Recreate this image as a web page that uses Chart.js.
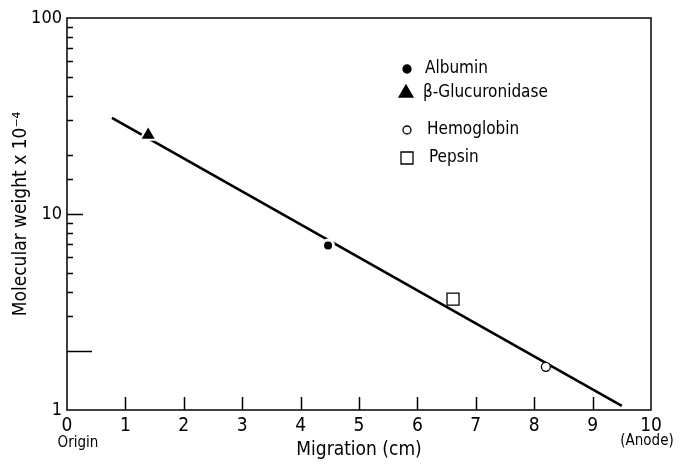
<!DOCTYPE html>
<html>
<head>
<meta charset="utf-8">
<script src="https://cdn.jsdelivr.net/npm/chart.js@4.4.1/dist/chart.umd.min.js"></script>
<style>
  html, body { margin: 0; padding: 0; background: #fff; }
  #wrap { width: 680px; height: 464px; }
</style>
</head>
<body>
<div id="wrap"><canvas id="mw-chart"></canvas></div>
<script>
// values
var proteins = ['Albumin', 'β-Glucuronidase', 'Hemoglobin', 'Pepsin'];
var migrationCm = [4.47, 1.39, 8.20, 6.61];
var molWeight = [6.9, 25.3, 1.66, 3.68];

// fitted line, its two ends
var fitCm = [0.77, 9.5];
var fitWeight = [30.9, 1.05];

var yLabelValues = [1, 10, 100];
var xEndNotes = ['Origin', '(Anode)'];

var FONT = '"DejaVu Sans Condensed", "DejaVu Sans", sans-serif';

// marker look for each protein, same order as proteins
var markers = [
    { style: 'circle', radius: 5.5, fill: '#000', border: '#fff', bw: 3 },
    { style: 'triangle', radius: 9.5, fill: '#000', border: '#fff', bw: 2 },
    { style: 'circle', radius: 4.5, fill: '#fff', border: '#000', bw: 1.3 },
    { style: 'rect', radius: 8.5, fill: 'rgba(0,0,0,0)', border: '#000', bw: 1.3 }
];
// where the legend rows sit
var legendRows = [
    { mx: 407, y: 69, tx: 425 },
    { mx: 406, y: 93, tx: 423 },
    { mx: 407, y: 130, tx: 427 },
    { mx: 407, y: 158, tx: 429 }
];

var datasets = proteins.map(function(name, i) {
    var m = markers[i];
    return {
        label: name,
        data: [{ x: migrationCm[i], y: molWeight[i] }],
        pointStyle: m.style,
        pointRadius: m.radius,
        pointBackgroundColor: m.fill,
        pointBorderColor: m.border,
        pointBorderWidth: m.bw,
        order: 1
    };
});
datasets.push({
    label: 'fit',
    data: fitCm.map(function(x, i) { return { x: x, y: fitWeight[i] }; }),
    showLine: true,
    borderColor: '#000',
    borderWidth: 2.6,
    pointRadius: 0,
    order: 2
});

// box, inward ticks, end notes and legend
var decorations = {
    id: 'decorations',
    afterDraw: function(chart) {
        var ctx = chart.ctx;
        var a = chart.chartArea;
        var xs = chart.scales.x, ys = chart.scales.y;
        ctx.save();
        ctx.strokeStyle = '#000';
        ctx.lineWidth = 1.5;
        ctx.strokeRect(a.left, a.top, a.right - a.left, a.bottom - a.top);

        ctx.beginPath();
        for (var v = 1; v < 10; v++) {
            var px = Math.round(xs.getPixelForValue(v)) + 0.5;
            ctx.moveTo(px, a.bottom);
            ctx.lineTo(px, a.bottom - 13);
        }
        ys.ticks.forEach(function(t) {
            if (t.value <= 1 || t.value >= 100) return;
            var len = 6;
            if (t.value === 10) len = 16;
            if (t.value === 2) len = 25;
            var py = Math.round(ys.getPixelForValue(t.value)) + 0.5;
            ctx.moveTo(a.left, py);
            ctx.lineTo(a.left + len, py);
        });
        ctx.stroke();

        ctx.fillStyle = '#000';
        ctx.font = '15px ' + FONT;
        ctx.textAlign = 'center';
        ctx.textBaseline = 'alphabetic';
        ctx.fillText(xEndNotes[0], xs.getPixelForValue(0) + 11, a.bottom + 37);
        ctx.fillText(xEndNotes[1], xs.getPixelForValue(10) - 4, a.bottom + 35);

        ctx.font = '17px ' + FONT;
        ctx.textAlign = 'left';
        ctx.textBaseline = 'middle';
        proteins.forEach(function(name, i) {
            var m = markers[i], r = legendRows[i];
            ctx.lineWidth = 1.3;
            ctx.strokeStyle = '#000';
            ctx.fillStyle = m.fill === '#000' ? '#000' : '#fff';
            Chart.helpers.drawPoint(ctx, {
                pointStyle: m.style,
                radius: m.style === 'circle' ? 4 : (m.style === 'triangle' ? 8 : 8.5),
                borderWidth: 1.3,
                rotation: 0
            }, r.mx, r.y);
            ctx.fillStyle = '#000';
            ctx.fillText(name, r.tx, r.y);
        });
        ctx.restore();
    }
};

new Chart(document.getElementById('mw-chart'), {
    type: 'scatter',
    data: { datasets: datasets },
    options: {
        responsive: true,
        maintainAspectRatio: false,
        animation: false,
        layout: { padding: { top: 18, right: 29, left: 0, bottom: 0 } },
        plugins: { legend: { display: false }, tooltip: { enabled: false } },
        scales: {
            x: {
                type: 'linear',
                min: 0,
                max: 10,
                grid: { display: false, drawTicks: false },
                border: { display: false },
                ticks: { stepSize: 1, color: '#000', font: { family: FONT, size: 19 }, padding: 5, maxRotation: 0 },
                title: { display: true, text: 'Migration (cm)', color: '#000', font: { family: FONT, size: 19 }, padding: { top: 0, bottom: 3 } },
                afterFit: function(s) { s.height = 54; }
            },
            y: {
                type: 'logarithmic',
                min: 1,
                max: 100,
                grid: { display: false, drawTicks: false },
                border: { display: false },
                ticks: {
                    color: '#000',
                    font: { family: FONT, size: 18 },
                    padding: 5,
                    autoSkip: false,
                    callback: function(v) { return yLabelValues.indexOf(v) >= 0 ? String(v) : ''; }
                },
                title: { display: true, text: 'Molecular weight x 10⁻⁴', color: '#000', font: { family: FONT, size: 19 }, padding: { top: 10, bottom: 0 } },
                afterFit: function(s) { s.width = 67; }
            }
        }
    },
    plugins: [decorations]
});
</script>
</body>
</html>
